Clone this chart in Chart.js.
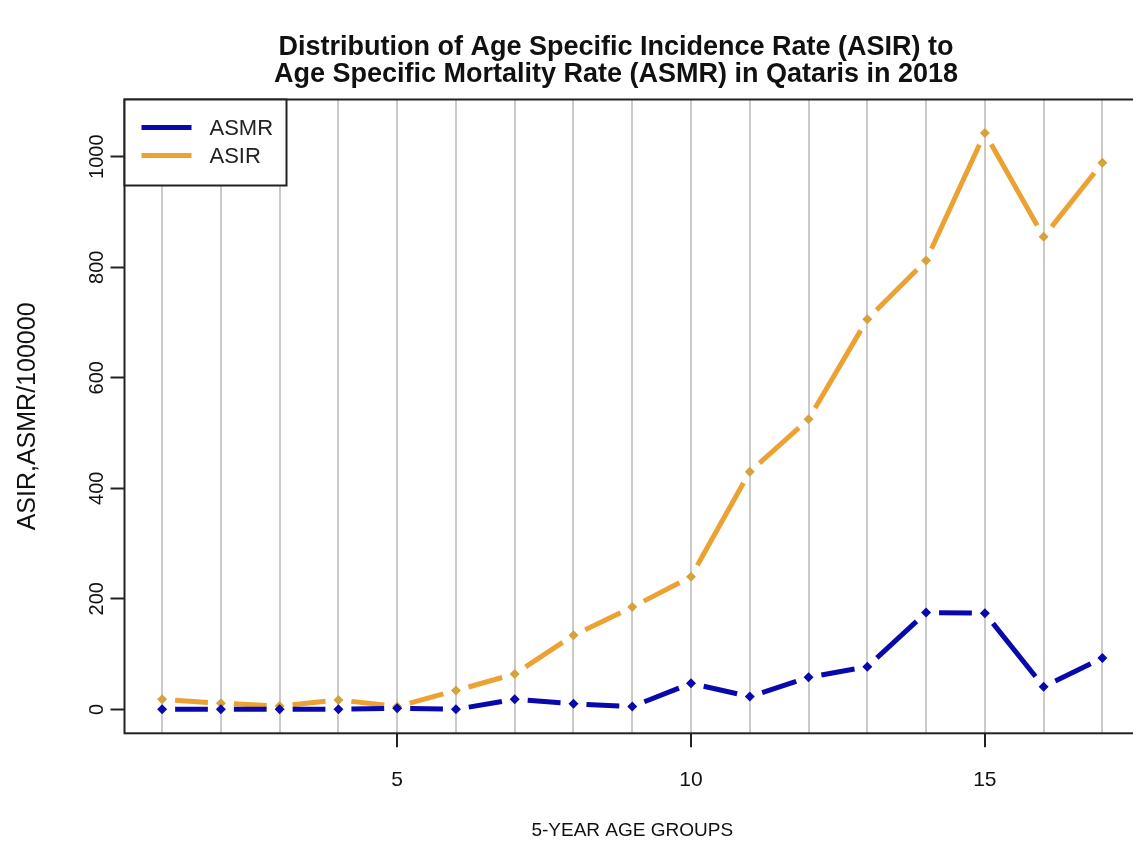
<!DOCTYPE html>
<html>
<head>
<meta charset="utf-8">
<title>ASIR and ASMR in Qataris, 2018</title>
<script src="https://cdn.jsdelivr.net/npm/chart.js@4.4.1/dist/chart.umd.min.js"></script>
<style>
  html, body { margin: 0; padding: 0; background: #ffffff; overflow: hidden; }
  canvas { display: block; }
</style>
</head>
<body>
<canvas id="chart" width="1145" height="846"></canvas>
<script>
// 5-year age groups (1 = 0-4, 2 = 5-9, ... 17 = 80+)
const ageGroups = [1, 2, 3, 4, 5, 6, 7, 8, 9, 10, 11, 12, 13, 14, 15, 16, 17];

// Age specific mortality rate per 100000
const asmrValues = [0, 0, 0, 0, 2, 0, 18, 10, 5, 47, 23, 58, 77, 175, 174, 41, 93];

// Age specific incidence rate per 100000
const asirValues = [18, 11, 6, 17, 5, 34, 64, 134, 185, 240, 430, 525, 706, 812, 1043, 855, 989];

// Labelled ticks
const xTickLabels = [5, 10, 15];
const yTickValues = [0, 200, 400, 600, 800, 1000];

const titleLines = [
  'Distribution of Age Specific Incidence Rate (ASIR) to',
  'Age Specific Mortality Rate (ASMR) in Qataris in 2018'
];
const xAxisTitle = '5-YEAR AGE GROUPS';
const yAxisTitle = 'ASIR,ASMR/100000';

const FONT = '"Liberation Sans", Arial, Helvetica, sans-serif';
const BLUE = '#0808ac';
const ORANGE = '#eba232';
const ORANGE_PT = '#d6a23c';

const toPoints = (xs, ys) => xs.map((x, i) => ({ x: x, y: ys[i] }));

// "Lines + points" style: every segment stops GAP px short of the points it joins
const GAP = 13;
const pointGaps = {
  id: 'pointGaps',
  beforeDatasetDraw(chart, args) {
    const ds = chart.data.datasets[args.index];
    if (!ds || !ds.gapped) return;
    const ctx = chart.ctx;
    const pts = args.meta.data;
    ctx.save();
    ctx.strokeStyle = ds.borderColor;
    ctx.lineWidth = ds.borderWidth;
    ctx.lineCap = 'butt';
    for (let i = 0; i < pts.length - 1; i++) {
      const a = pts[i], b = pts[i + 1];
      const dx = b.x - a.x, dy = b.y - a.y;
      const len = Math.hypot(dx, dy);
      if (!(len > 2 * GAP)) continue;
      const ux = dx / len, uy = dy / len;
      ctx.beginPath();
      ctx.moveTo(a.x + ux * GAP, a.y + uy * GAP);
      ctx.lineTo(b.x - ux * GAP, b.y - uy * GAP);
      ctx.stroke();
    }
    ctx.restore();
    return false;
  }
};

// Full frame around the plotting region
const plotFrame = {
  id: 'plotFrame',
  beforeDatasetsDraw(chart) {
    const { ctx, chartArea: a } = chart;
    ctx.save();
    ctx.strokeStyle = '#222222';
    ctx.lineWidth = 2;
    ctx.strokeRect(a.left, a.top, a.right - a.left, a.bottom - a.top);
    ctx.restore();
  }
};

// Boxed legend in the top-left corner and the two-line heading
const legendAndTitle = {
  id: 'legendAndTitle',
  afterDraw(chart) {
    const { ctx, chartArea: a } = chart;
    const series = chart.data.datasets.filter(d => d.gapped);
    ctx.save();
    const bx = a.left, by = a.top, bw = 162, bh = 86;
    ctx.fillStyle = '#ffffff';
    ctx.fillRect(bx, by, bw, bh);
    ctx.strokeStyle = '#222222';
    ctx.lineWidth = 2;
    ctx.strokeRect(bx, by, bw, bh);
    series.forEach((d, i) => {
      const y = by + 28 + i * 28;
      ctx.strokeStyle = d.borderColor;
      ctx.lineWidth = 5;
      ctx.beginPath();
      ctx.moveTo(bx + 17, y);
      ctx.lineTo(bx + 67, y);
      ctx.stroke();
      ctx.fillStyle = '#222222';
      ctx.font = '22px ' + FONT;
      ctx.textAlign = 'left';
      ctx.textBaseline = 'middle';
      ctx.fillText(d.label, bx + 85, y + 1);
    });

    ctx.fillStyle = '#111111';
    ctx.font = 'bold 27px ' + FONT;
    ctx.textAlign = 'center';
    ctx.textBaseline = 'middle';
    titleLines.forEach((t, i) => ctx.fillText(t, 616, 48 + i * 27));
    ctx.restore();
  }
};

new Chart(document.getElementById('chart'), {
  type: 'line',
  data: {
    datasets: [
      { label: 'ASMR', gapped: true, data: toPoints(ageGroups, asmrValues),
        borderColor: BLUE, borderWidth: 5, pointRadius: 0, tension: 0 },
      { label: 'ASMR points', data: toPoints(ageGroups, asmrValues), showLine: false,
        pointStyle: 'rectRot', pointRadius: 5, pointBackgroundColor: BLUE, pointBorderColor: BLUE, pointBorderWidth: 0 },
      { label: 'ASIR', gapped: true, data: toPoints(ageGroups, asirValues),
        borderColor: ORANGE, borderWidth: 5, pointRadius: 0, tension: 0 },
      { label: 'ASIR points', data: toPoints(ageGroups, asirValues), showLine: false,
        pointStyle: 'rectRot', pointRadius: 5, pointBackgroundColor: ORANGE_PT, pointBorderColor: ORANGE_PT, pointBorderWidth: 0 }
    ]
  },
  options: {
    responsive: false,
    animation: false,
    events: [],
    layout: { padding: { top: 99.5, right: 2, bottom: 0, left: 0 } },
    plugins: { legend: { display: false }, title: { display: false }, tooltip: { enabled: false } },
    scales: {
      x: {
        type: 'linear',
        min: 0.36,
        max: 17.64,
        afterBuildTicks: s => { s.ticks = ageGroups.map(v => ({ value: v })); },
        afterFit: s => { s.height = 112.7; },
        border: { display: false },
        grid: {
          color: '#cacaca',
          lineWidth: 2,
          drawTicks: true,
          tickLength: 14,
          tickWidth: 2,
          tickColor: c => (c.tick && xTickLabels.includes(c.tick.value)) ? '#222222' : 'rgba(0,0,0,0)'
        },
        ticks: {
          autoSkip: false,
          maxRotation: 0,
          padding: 20,
          color: '#111111',
          font: { family: FONT, size: 21 },
          callback: v => xTickLabels.includes(v) ? String(v) : ''
        },
        title: {
          display: true,
          text: xAxisTitle,
          color: '#111111',
          font: { family: FONT, size: 19 },
          padding: { top: 0, bottom: 4 }
        }
      },
      y: {
        type: 'linear',
        min: -43.4,
        max: 1103.5,
        afterBuildTicks: s => { s.ticks = yTickValues.map(v => ({ value: v })); },
        afterFit: s => { s.width = 124.5; },
        border: { display: false },
        grid: {
          drawOnChartArea: false,
          drawTicks: true,
          tickLength: 14,
          tickWidth: 2,
          tickColor: '#222222'
        },
        ticks: {
          minRotation: 90,
          maxRotation: 90,
          crossAlign: 'center',
          padding: -9,
          color: '#111111',
          font: { family: FONT, size: 20 },
          callback: v => String(v)
        },
        title: {
          display: true,
          text: yAxisTitle,
          color: '#111111',
          font: { family: FONT, size: 25 },
          padding: { top: 13, bottom: 0 }
        }
      }
    }
  },
  plugins: [pointGaps, plotFrame, legendAndTitle]
});
</script>
</body>
</html>
